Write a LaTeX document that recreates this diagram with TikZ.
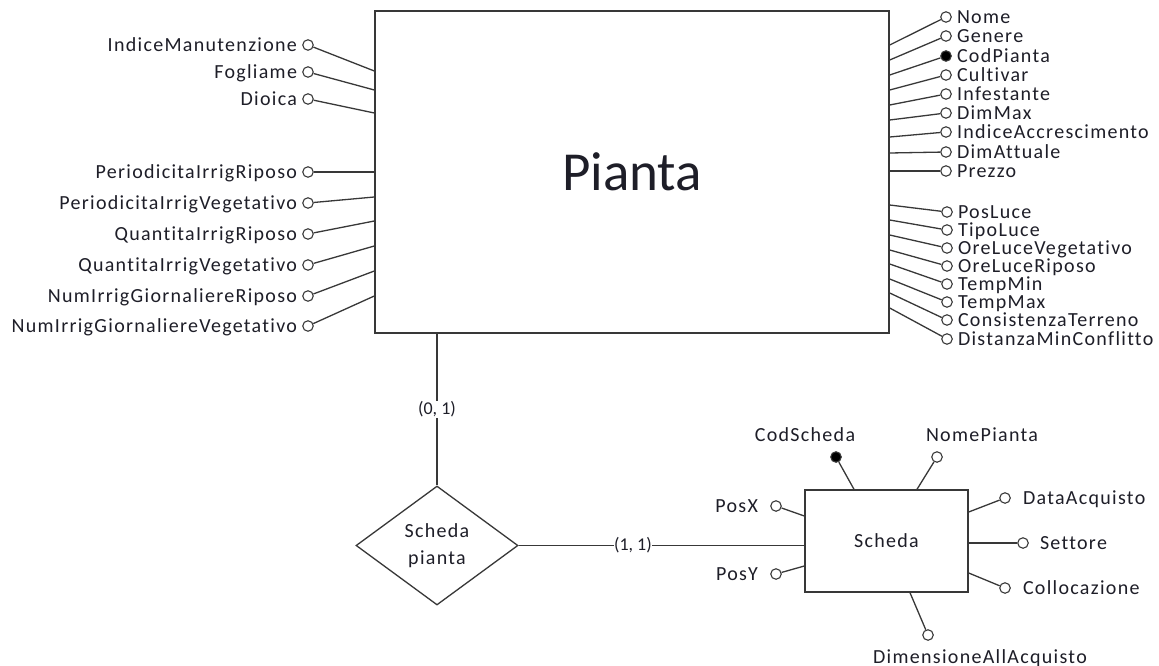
\documentclass[tikz,border=0pt]{standalone}
\usepackage{fontspec}
\setmainfont{Carlito}
\newfontfamily\erfont[LetterSpace=6.5,Ligatures={NoCommon,NoRare}]{Carlito}
\usetikzlibrary{shapes.geometric,positioning}
\definecolor{ink}{HTML}{1E1E28}
\definecolor{edge}{HTML}{383838}

\begin{document}
\begin{tikzpicture}[x=1pt,y=-1pt,
  every node/.style={text=ink},
  entity/.style={draw=edge, line width=1.4pt, rectangle, inner sep=0},
  relation/.style={draw=edge, line width=1.3pt, diamond, inner sep=0, align=center,
    font=\erfont\fontsize{20}{27}\selectfont},
  attr/.style={circle, draw=edge, line width=1.1pt, fill=#1, minimum size=10.5pt, inner sep=0},
  attr/.default=white,
  lbl/.style={font=\erfont\fontsize{20}{22}\selectfont, inner sep=0,
    text height=12.5pt, text depth=0pt},
  link/.style={draw=edge, line width=1.3pt},
  card/.style={font=\fontsize{18}{20}\selectfont, fill=white, inner sep=1pt,
    text height=12pt, text depth=3pt},
]
\fill[white] (0,0) rectangle (1159,666);
\useasboundingbox (0,0) rectangle (1159,666);

% entity Pianta
\node[entity, minimum width=514pt, minimum height=322pt,
  font=\fontsize{55}{60}\selectfont] (pianta) at (632,172) {Pianta};

% attributes on the left side of Pianta
\foreach \i/\y/\by/\txt in {
  1/45/71/IndiceManutenzione,
  2/72/90/Fogliame,
  3/99/113/Dioica,
  4/172/172/PeriodicitaIrrigRiposo,
  5/203/197/PeriodicitaIrrigVegetativo,
  6/234/221/QuantitaIrrigRiposo,
  7/265/246/QuantitaIrrigVegetativo,
  8/296/271/NumIrrigGiornaliereRiposo,
  9/326/296/NumIrrigGiornaliereVegetativo} {
  \node[attr] (pl\i) at (308,\y) {};
  \node[lbl, left=5pt of pl\i] (plt\i) {\txt};
  \draw[link] (pianta.west |- 0,\by) -- (pl\i);
}

% attributes on the upper right side of Pianta
\foreach \i/\y/\by/\fc/\txt in {
  1/17/45/white/Nome,
  2/36/60/white/Genere,
  3/56/75/black/CodPianta,
  4/75/90/white/Cultivar,
  5/94/105/white/Infestante,
  6/113/120/white/DimMax,
  7/132/137/white/IndiceAccrescimento,
  8/152/153/white/DimAttuale,
  9/171/171/white/Prezzo} {
  \node[attr=\fc] (pr\i) at (946,\y) {};
  \node[lbl, right=5pt of pr\i] (prt\i) {\txt};
  \draw[link] (pianta.east |- 0,\by) -- (pr\i);
}

% attributes on the lower right side of Pianta
\foreach \i/\y/\by/\txt in {
  1/212/205/PosLuce,
  2/230/220/TipoLuce,
  3/248/235/OreLuceVegetativo,
  4/266/250/OreLuceRiposo,
  5/284/264/TempMin,
  6/302/279/TempMax,
  7/320/293/ConsistenzaTerreno,
  8/339/308/DistanzaMinConflitto} {
  \node[attr] (ps\i) at (947,\y) {};
  \node[lbl, right=5pt of ps\i] (pst\i) {\txt};
  \draw[link] (pianta.east |- 0,\by) -- (ps\i);
}

% relationship and entity Scheda
\node[relation, minimum width=162pt, minimum height=119pt] (rel) at (437,545.5) {Scheda\\pianta};
\node[entity, minimum width=163pt, minimum height=102pt,
  font=\erfont\fontsize{20}{22}\selectfont] (scheda) at (886.5,541) {Scheda};

\draw[link] (pianta.south -| 437,0) -- node[card, pos=0.5] (c1) {(0, 1)} (rel.north);
\draw[link] (rel.east) -- node[card, pos=0.40, inner sep=0.3pt] (c2) {(1, 1)} (scheda.west |- 0,545.5);

% attributes of Scheda
\node[attr=black] (sk) at (836,457) {};
\node[lbl] (skt) at (805,435) {CodScheda};
\draw[link] (scheda.north -| 854,0) -- (sk);

\node[attr] (sn) at (937,457) {};
\node[lbl] (snt) at (982,435) {NomePianta};
\draw[link] (scheda.north -| 917,0) -- (sn);

\node[attr] (sx) at (776,506) {};
\node[lbl, left=12pt of sx] (sxt) {PosX};
\draw[link] (scheda.west |- 0,516) -- (sx);

\node[attr] (sy) at (776,574) {};
\node[lbl, left=12pt of sy] (syt) {PosY};
\draw[link] (scheda.west |- 0,566) -- (sy);

\node[attr] (sd) at (1005,498) {};
\node[lbl, right=12pt of sd] (sdt) {DataAcquisto};
\draw[link] (scheda.east |- 0,512) -- (sd);

\node[attr] (ss) at (1023,543) {};
\node[lbl, right=11pt of ss] (sst) {Settore};
\draw[link] (scheda.east |- 0,543) -- (ss);

\node[attr] (sc) at (1005,588) {};
\node[lbl, right=12pt of sc] (sct) {Collocazione};
\draw[link] (scheda.east |- 0,573) -- (sc);

\node[attr] (sm) at (928,635) {};
\node[lbl] (smt) at (980,657) {DimensioneAllAcquisto};
\draw[link] (scheda.south -| 910,0) -- (sm);
\end{tikzpicture}
\end{document}
